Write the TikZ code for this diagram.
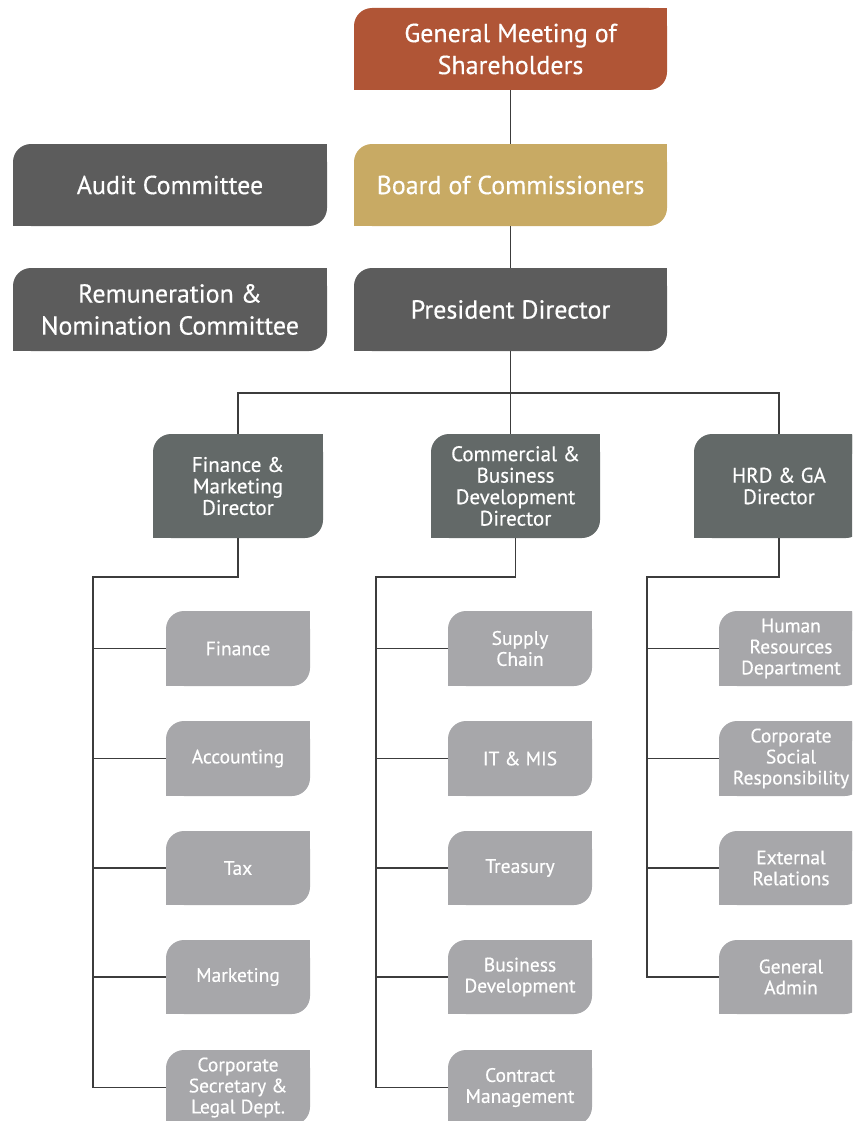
\documentclass[tikz,border=0pt]{standalone}
\usepackage{fontspec}
\setmainfont{PT Sans}[FakeBold=0.4]
\usetikzlibrary{calc}

\definecolor{gmscol}{RGB}{176,85,54}
\definecolor{boccol}{RGB}{200,170,100}
\definecolor{darkcol}{RGB}{92,92,92}
\definecolor{dircol}{RGB}{99,105,104}
\definecolor{unitcol}{RGB}{167,167,170}
\definecolor{linecol}{RGB}{60,60,60}

\tikzset{
  boxtext/.style={inner sep=0pt, text=white, align=center},
  topfont/.style={font=\fontsize{26}{32}\selectfont},
  dirfont/.style={font=\fontsize{21}{21.5}\selectfont},
  unitfont/.style={font=\fontsize{19.5}{21}\selectfont},
  link/.style={draw=linecol, line width=1.2pt}
}

% box with rounded top-left and bottom-right corners
% #1 name, #2 colour, #3 #4 top-left, #5 #6 bottom-right, #7 font style, #8 text
\newcommand{\orgbox}[8]{%
  \fill[#2,rounded corners=18] (#3,#4) rectangle (#5,#6);
  \fill[#2] (#5-20,#4) rectangle (#5,#4+20);
  \fill[#2] (#3,#6-20) rectangle (#3+20,#6);
  \node[boxtext,#7,minimum width=#5-#3,minimum height=#6-#4] (#1) at ({(#3+#5)/2},{(#4+#6)/2}) {#8};
}

\begin{document}
\begin{tikzpicture}[x=1pt,y=-1pt]
  \useasboundingbox (0,0) rectangle (852,1121);
  \clip (0,0) rectangle (852,1121);

  % top level
  \orgbox{gms}{gmscol}{354}{8}{667}{90}{topfont}{General Meeting of\\Shareholders}
  \orgbox{audit}{darkcol}{13}{144}{327}{226}{topfont}{Audit Committee}
  \orgbox{boc}{boccol}{354}{144}{667}{226}{topfont}{Board of Commissioners}
  \orgbox{remun}{darkcol}{13}{268}{327}{351}{topfont}{Remuneration \&\\Nomination Committee}
  \orgbox{pres}{darkcol}{354}{268}{667}{351}{topfont}{President Director}

  % directors
  \orgbox{fin}{dircol}{153}{434}{323}{538}{dirfont}{Finance \&\\Marketing\\Director}
  \orgbox{com}{dircol}{431}{434}{600}{538}{dirfont}{Commercial \&\\Business\\Development\\Director}
  \orgbox{hrd}{dircol}{694}{434}{864}{538}{dirfont}{HRD \& GA\\Director}

  % finance units
  \orgbox{finance}{unitcol}{166}{611}{310}{686}{unitfont}{Finance}
  \orgbox{acc}{unitcol}{166}{721}{310}{796}{unitfont}{Accounting}
  \orgbox{tax}{unitcol}{166}{831}{310}{905}{unitfont}{Tax}
  \orgbox{mkt}{unitcol}{166}{940}{310}{1014}{unitfont}{Marketing}
  \orgbox{sec}{unitcol}{166}{1050}{310}{1125}{unitfont}{Corporate\\Secretary \&\\Legal Dept.}

  % commercial units
  \orgbox{supply}{unitcol}{448}{611}{592}{686}{unitfont}{Supply\\Chain}
  \orgbox{itmis}{unitcol}{448}{721}{592}{796}{unitfont}{IT \& MIS}
  \orgbox{treas}{unitcol}{448}{831}{592}{905}{unitfont}{Treasury}
  \orgbox{busdev}{unitcol}{448}{940}{592}{1014}{unitfont}{Business\\Development}
  \orgbox{contract}{unitcol}{448}{1050}{592}{1125}{unitfont}{Contract\\Management}

  % hrd units
  \orgbox{hr}{unitcol}{719}{611}{863}{686}{unitfont}{Human\\Resources\\Department}
  \orgbox{csr}{unitcol}{719}{721}{863}{796}{unitfont}{Corporate\\Social\\Responsibility}
  \orgbox{extrel}{unitcol}{719}{831}{863}{905}{unitfont}{External\\Relations}
  \orgbox{admin}{unitcol}{719}{940}{863}{1014}{unitfont}{General\\Admin}

  % connectors
  \coordinate (hub) at (pres.south |- 0,393);
  \draw[link] (gms) -- (boc);
  \draw[link] (boc) -- (pres);
  \draw[link] (pres.south) -- (pres.south |- com.north);
  \draw[link] (fin.north) |- (hub) -| (hrd.north);

  \coordinate (finbus) at (93,577);
  \coordinate (combus) at (376,577);
  \coordinate (hrdbus) at (647,577);

  \draw[link] (fin.south) |- (finbus) |- (sec.west);
  \foreach \u in {finance,acc,tax,mkt}
    \draw[link] (finbus |- \u.west) -- (\u.west);

  \draw[link] (com.south) |- (combus) |- (contract.west);
  \foreach \u in {supply,itmis,treas,busdev}
    \draw[link] (combus |- \u.west) -- (\u.west);

  \draw[link] (hrd.south) |- (hrdbus) |- (admin.west);
  \foreach \u in {hr,csr,extrel}
    \draw[link] (hrdbus |- \u.west) -- (\u.west);
\end{tikzpicture}
\end{document}
